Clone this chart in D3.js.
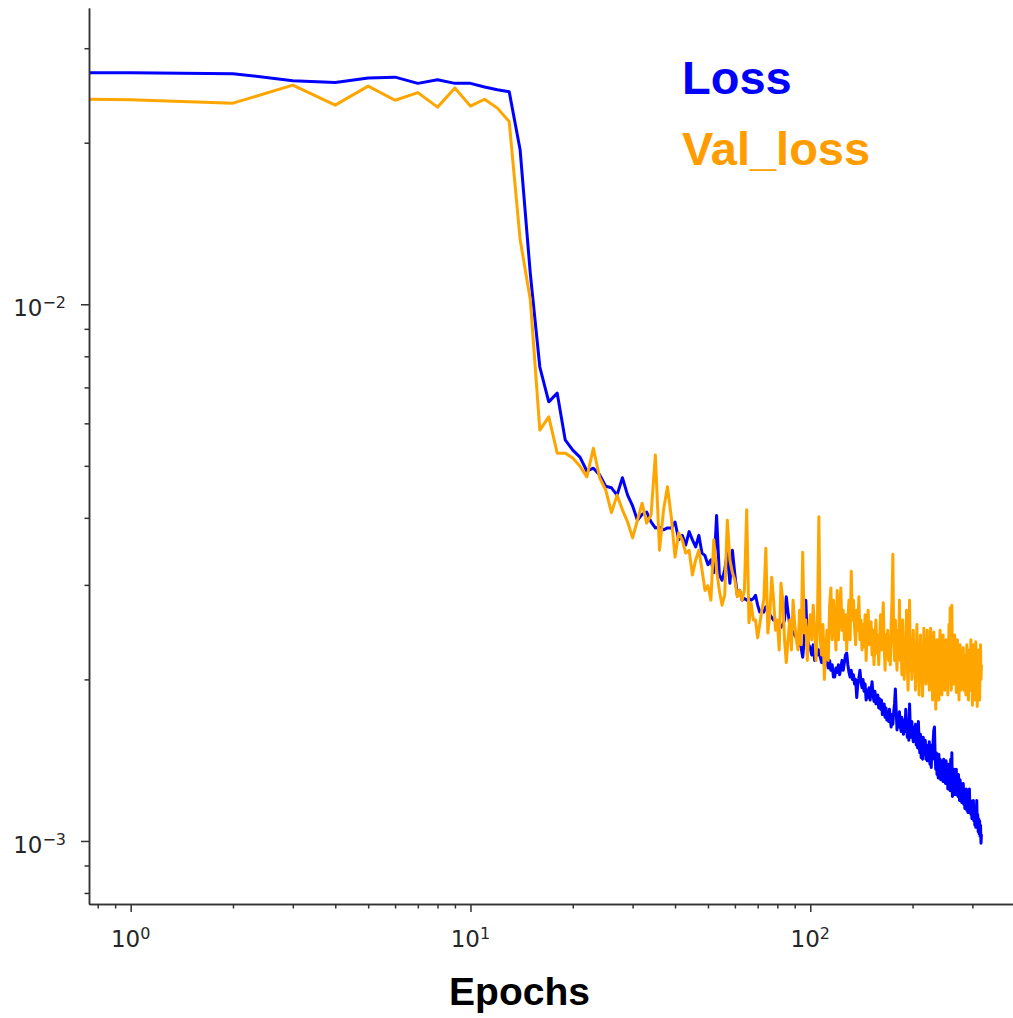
<!DOCTYPE html>
<html>
<head>
<meta charset="utf-8">
<script src="https://cdn.jsdelivr.net/npm/d3@7"></script>
<style>
  body { margin: 0; background: #fff; }
  svg { display: block; }
</style>
</head>
<body>
<svg width="1013" height="1018"></svg>
<script>
// training loss per epoch (epoch 0 .. 319), in units of 1e-3
var lossMilli = [
  27.0, 27.0, 26.9, 26.1, 25.9, 26.4, 26.5, 25.8, 26.2, 25.8,
  25.8, 25.4, 25.1, 24.9, 19.4, 11.4, 7.64, 6.58, 6.83, 5.59,
  5.35, 5.19, 4.89, 4.95, 4.81, 4.58, 4.55, 4.41, 4.75, 4.41,
  4.21, 3.96, 4.06, 4.10, 3.93, 3.83, 3.84, 3.80, 3.83, 3.83,
  3.93, 3.64, 3.71, 3.56, 3.77, 3.64, 3.53, 3.71, 3.44, 3.40,
  3.27, 3.34, 3.16, 4.04, 3.13, 3.06, 3.20, 3.44, 3.02, 3.48,
  3.13, 2.87, 2.93, 2.81, 2.83, 2.81, 2.83, 2.81, 2.83, 2.87,
  2.75, 2.67, 2.69, 2.67, 2.73, 2.67, 2.64, 2.61, 2.58, 2.58,
  2.56, 2.55, 2.50, 2.53, 2.58, 2.85, 2.67, 2.53, 2.47, 2.45,
  2.42, 2.39, 2.37, 2.34, 2.29, 2.20, 2.37, 2.81, 2.37, 2.32,
  2.29, 2.22, 2.32, 2.17, 2.34, 2.22, 2.27, 2.20, 2.15, 2.27,
  2.13, 2.22, 2.14, 2.10, 2.17, 2.08, 2.13, 2.02, 2.02, 2.10,
  2.06, 2.13, 2.04, 2.10, 2.17, 2.08, 2.15, 2.22, 2.24, 2.13,
  2.06, 2.02, 2.08, 2.00, 2.04, 1.96, 2.00, 1.85, 1.96, 2.01,
  2.08, 1.98, 1.93, 2.00, 1.90, 1.96, 1.83, 1.91, 1.85, 1.93,
  1.83, 1.91, 1.98, 1.87, 1.82, 1.90, 1.80, 1.83, 1.87, 1.77,
  1.84, 1.76, 1.83, 1.72, 1.73, 1.80, 1.70, 1.77, 1.68, 1.74,
  1.67, 1.76, 1.68, 1.63, 1.72, 1.65, 1.74, 1.80, 1.92, 1.75,
  1.61, 1.70, 1.63, 1.74, 1.65, 1.60, 1.70, 1.63, 1.58, 1.68,
  1.60, 1.76, 1.65, 1.56, 1.67, 1.54, 1.80, 1.61, 1.56, 1.67,
  1.58, 1.53, 1.63, 1.54, 1.65, 1.51, 1.60, 1.49, 1.67, 1.54,
  1.46, 1.58, 1.43, 1.53, 1.42, 1.56, 1.48, 1.45, 1.54, 1.42,
  1.51, 1.41, 1.49, 1.43, 1.53, 1.39, 1.48, 1.37, 1.51, 1.42,
  1.54, 1.61, 1.63, 1.45, 1.36, 1.46, 1.33, 1.43, 1.31, 1.45,
  1.36, 1.42, 1.30, 1.41, 1.33, 1.39, 1.29, 1.42, 1.31, 1.37,
  1.28, 1.41, 1.30, 1.36, 1.25, 1.39, 1.28, 1.35, 1.24, 1.42,
  1.30, 1.46, 1.21, 1.33, 1.25, 1.36, 1.22, 1.31, 1.26, 1.36,
  1.22, 1.30, 1.21, 1.33, 1.25, 1.19, 1.30, 1.22, 1.28, 1.18,
  1.26, 1.21, 1.28, 1.17, 1.25, 1.15, 1.24, 1.17, 1.25, 1.14,
  1.22, 1.13, 1.21, 1.15, 1.25, 1.13, 1.19, 1.12, 1.18, 1.10,
  1.17, 1.12, 1.19, 1.09, 1.15, 1.07, 1.14, 1.06, 1.13, 1.19,
  1.07, 1.12, 1.04, 1.10, 1.03, 1.09, 1.02, 1.07, 0.99, 1.03
]

// validation loss per epoch, same units
var valLossMilli = [
  24.1, 24.05, 23.7, 25.6, 23.5, 25.5, 24.0, 24.8, 23.3, 25.3,
  23.4, 24.1, 23.2, 21.9, 13.2, 10.2, 5.83, 6.17, 5.28, 5.28,
  5.17, 4.99, 4.77, 5.39, 4.75, 4.51, 4.09, 4.41, 4.14, 3.93,
  3.67, 3.96, 4.26, 3.91, 4.05, 5.24, 3.48, 4.14, 4.57, 4.01,
  3.38, 3.75, 3.64, 3.44, 3.48, 3.13, 3.34, 3.48, 3.20, 2.93,
  2.99, 2.81, 3.64, 3.20, 2.93, 2.75, 2.87, 3.96, 3.34, 3.16,
  3.06, 2.85, 2.93, 2.81, 2.93, 4.14, 2.55, 2.77, 2.58, 2.58,
  2.39, 2.53, 2.69, 2.81, 3.51, 2.44, 2.64, 3.10, 2.81, 2.47,
  2.58, 2.27, 3.02, 2.81, 2.37, 2.15, 2.37, 2.58, 2.27, 2.81,
  2.53, 2.37, 2.27, 2.69, 2.32, 3.45, 2.44, 2.58, 2.17, 2.47,
  2.64, 2.37, 2.75, 2.47, 2.17, 2.58, 4.02, 2.37, 2.22, 2.53,
  2.00, 2.27, 2.47, 2.17, 2.75, 2.96, 2.37, 2.81, 2.55, 2.27,
  2.93, 2.37, 2.69, 2.96, 2.47, 2.69, 2.37, 2.64, 2.27, 2.58,
  2.81, 2.37, 3.18, 2.58, 2.81, 2.50, 2.32, 2.69, 2.47, 2.85,
  2.37, 2.58, 2.27, 2.53, 2.30, 2.64, 2.17, 2.47, 2.69, 2.32,
  2.53, 2.56, 2.22, 2.47, 2.13, 2.37, 2.58, 2.24, 2.42, 2.13,
  2.37, 2.64, 2.27, 2.53, 2.78, 2.32, 2.08, 2.42, 2.22, 2.47,
  2.17, 2.37, 2.13, 2.53, 2.81, 3.42, 2.37, 2.17, 2.58, 2.27,
  2.08, 2.47, 2.24, 2.81, 2.17, 2.37, 2.04, 2.58, 2.27, 2.00,
  2.37, 2.17, 2.69, 2.13, 1.91, 2.27, 2.81, 2.08, 2.37, 2.00,
  2.22, 2.47, 2.08, 2.32, 1.91, 2.17, 2.53, 2.04, 2.27, 1.87,
  2.17, 2.42, 2.00, 2.27, 1.86, 2.13, 2.49, 2.08, 2.32, 1.96,
  2.17, 2.47, 2.04, 2.27, 1.91, 2.22, 2.49, 2.08, 2.27, 1.83,
  2.17, 2.45, 2.00, 2.22, 1.76, 2.13, 2.37, 1.91, 2.17, 1.83,
  2.27, 2.47, 2.00, 2.22, 1.87, 2.17, 2.42, 1.96, 2.27, 1.91,
  2.13, 2.37, 2.00, 2.22, 1.87, 2.17, 2.53, 2.08, 2.72, 2.17,
  1.91, 2.75, 2.13, 2.32, 1.96, 2.22, 2.42, 2.00, 2.27, 1.89,
  2.17, 2.37, 2.04, 2.27, 1.83, 2.13, 2.32, 1.91, 2.17, 2.00,
  2.27, 2.08, 2.29, 1.91, 2.17, 2.00, 2.22, 1.87, 2.13, 2.32,
  1.96, 2.17, 1.83, 2.08, 2.27, 1.91, 2.17, 2.37, 2.00, 2.17,
  1.79, 2.08, 2.32, 1.91, 2.17, 1.83, 2.13, 2.35, 1.96, 2.17,
  1.78, 2.08, 2.27, 1.91, 2.13, 1.83, 2.08, 2.32, 2.00, 2.13
]

var epochs = d3.range(lossMilli.length)

// major ticks and their exponents
var xMajor = [1, 10, 100]
var xExp = ["0", "1", "2"]
var yMajor = [1e-3, 1e-2]
var yExp = ["\u22123", "\u22122"]

var seriesNames = ["Loss", "Val_loss"]
var seriesColors = ["#0000ff", "#ffa500"]

var svg = d3.select("svg")

var xDom = [0.754, 395]
var x = d3.scaleLog().domain(xDom).range([89, 1013])
var y = d3.scaleLog().domain([7.63e-4, 0.03565]).range([904, 8])

var line = d3.line()
    .x(function (d) { return x(Math.max(d[0], xDom[0])) }) // epoch 0 gets clipped to the left edge
    .y(function (d) { return y(d[1]) })

var series = [lossMilli, valLossMilli].map(function (arr) {
    return epochs.map(function (e) { return [e, arr[e] / 1000] })
})

var clip = svg.append("clipPath").attr("id", "plot")
clip.append("rect").attr("x", 89).attr("y", 8).attr("width", 924).attr("height", 896)

svg.append("g").attr("clip-path", "url(#plot)")
    .selectAll("path")
    .data(series).enter()
    .append("path")
    .attr("d", line)
    .attr("fill", "none")
    .attr("stroke", function (d, i) { return seriesColors[i] })
    .attr("stroke-width", 3)
    .attr("stroke-linejoin", "round")

// axes: minor ticks first, then majors with the spine
var xMinor = x.ticks().filter(function (v) { return xMajor.indexOf(v) < 0 })
var yMinor = y.ticks().filter(function (v) { return yMajor.every(function (m) { return Math.abs(m - v) > m * 1e-6 }) })

function styleAxis(g) {
    g.selectAll("path, line").attr("stroke", "#333").attr("stroke-width", 1.5)
}

svg.append("g").attr("transform", "translate(0,904)")
    .call(d3.axisBottom(x).tickValues(xMinor).tickSize(4.5).tickSizeOuter(0).tickFormat(""))
    .call(styleAxis)
svg.append("g").attr("transform", "translate(0,904)")
    .call(d3.axisBottom(x).tickValues(xMajor).tickSize(8).tickSizeOuter(0).tickFormat(""))
    .call(styleAxis)
svg.append("g").attr("transform", "translate(89,0)")
    .call(d3.axisLeft(y).tickValues(yMinor).tickSize(4.5).tickSizeOuter(0).tickFormat(""))
    .call(styleAxis)
svg.append("g").attr("transform", "translate(89,0)")
    .call(d3.axisLeft(y).tickValues(yMajor).tickSize(8).tickSizeOuter(0).tickFormat(""))
    .call(styleAxis)

// tick labels written as 10 with a superscript
function powLabel(sel) {
    sel.attr("font-family", "DejaVu Sans").attr("font-size", 23).attr("fill", "#262626")
    sel.append("tspan").text("10")
    sel.append("tspan").attr("dy", -8).attr("font-size", 16).text(function (d) { return d.exp })
}

svg.selectAll(".xlab")
    .data(xMajor.map(function (v, i) { return { v: v, exp: xExp[i] } })).enter()
    .append("text").attr("class", "xlab")
    .attr("x", function (d) { return x(d.v) })
    .attr("y", 946.5)
    .attr("text-anchor", "middle")
    .call(powLabel)

svg.selectAll(".ylab")
    .data(yMajor.map(function (v, i) { return { v: v, exp: yExp[i] } })).enter()
    .append("text").attr("class", "ylab")
    .attr("x", 66)
    .attr("y", function (d) { return y(d.v) + 12 })
    .attr("text-anchor", "end")
    .call(powLabel)

svg.append("text")
    .attr("x", 519.5).attr("y", 1005)
    .attr("text-anchor", "middle")
    .attr("font-family", "Liberation Sans, Arial, sans-serif")
    .attr("font-weight", "bold").attr("font-size", 39)
    .attr("fill", "#000")
    .text("Epochs")

// legend as two coloured words
svg.selectAll(".leg")
    .data(seriesNames).enter()
    .append("text").attr("class", "leg")
    .attr("x", 682)
    .attr("y", function (d, i) { return 93.5 + i * 71.5 })
    .attr("font-family", "Liberation Sans, Arial, sans-serif")
    .attr("font-weight", "bold").attr("font-size", 47)
    .attr("fill", function (d, i) { return i == 0 ? "#0000ff" : "#ff9d00" })
    .text(function (d) { return d })
</script>
</body>
</html>
